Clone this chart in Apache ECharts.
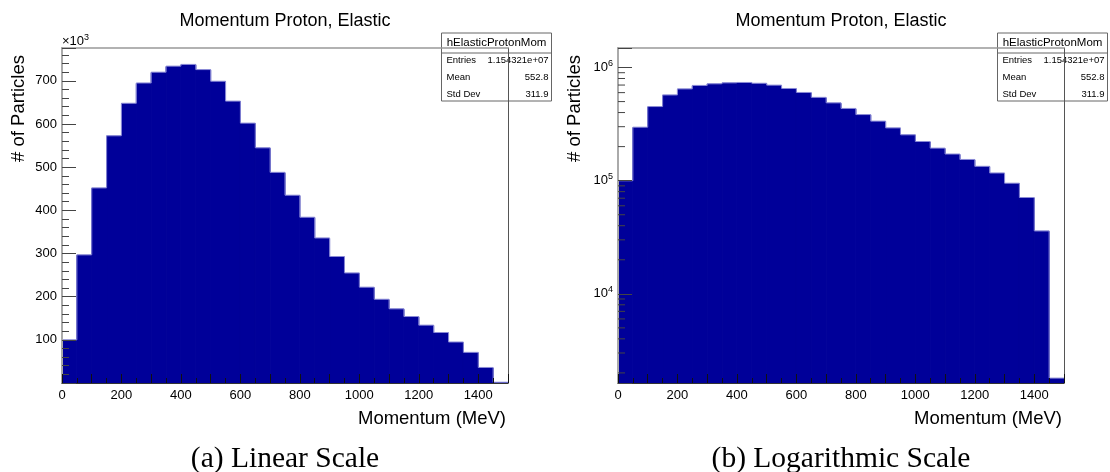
<!DOCTYPE html>
<html><head><meta charset="utf-8">
<script src="https://cdn.jsdelivr.net/npm/echarts@6/dist/echarts.min.js"></script>
<style>html,body{margin:0;padding:0;background:#fff}#c{width:1110px;height:472px}</style>
</head><body><div id="c"></div>
<script>
// ---- data ----
const binEdges = [0,50,100,150,200,250,300,350,400,450,500,550,600,650,700,750,800,850,900,950,1000,1050,1100,1150,1200,1250,1300,1350,1400,1450,1500];
// counts per bin, in thousands of particles
const particlesK = [100,297,452,573,648,695,720,734,738,726,699,653,602,545,488,435,384,336,293,255,222,194,172,154,134,117,95,71,36,1.8];
const xTickLabels = ['0','200','400','600','800','1000','1200','1400'];
const linTickLabels = ['100','200','300','400','500','600','700'];
const logTickExponents = [4,5,6];
const logMinorTicks = [2000,3000,4000,5000,6000,7000,8000,9000,20000,30000,40000,50000,60000,70000,80000,90000,200000,300000,400000,500000,600000,700000,800000,900000];
const histTitle = 'Momentum Proton, Elastic';
const xTitle = 'Momentum (MeV)';
const yTitle = '# of Particles';
const captions = ['(a) Linear Scale', '(b) Logarithmic Scale'];
const statsName = 'hElasticProtonMom';
const statsLabels = ['Entries', 'Mean', 'Std Dev'];
const statsValues = ['1.154321e+07', '552.8', '311.9'];

// ---- layout constants ----
const FONT = 'Liberation Sans';
const linMax = 776;
const logMin = 1629, logMax = 1.488e6;
const grids = [
  {left: 62, top: 48, width: 446, height: 335},
  {left: 618, top: 48, width: 446, height: 335}
];

function histData(scale, base) {
  return particlesK.map((v, i) => [binEdges[i], binEdges[i+1], v * scale, i === 0 ? base : particlesK[i-1] * scale]);
}
function histRender(base) {
  return function (params, api) {
    const x0 = api.value(0), x1 = api.value(1), v = api.value(2), pv = api.value(3);
    const tl = api.coord([x0, v]);
    const tr = api.coord([x1, v]);
    const br = api.coord([x1, base]);
    const pp = api.coord([x0, pv]);
    return {type: 'group', children: [
      {type: 'rect', z2: 0, shape: {x: tl[0], y: tl[1] + 0.5, width: br[0] - tl[0], height: br[1] - tl[1] - 0.5}, style: {fill: '#000099', stroke: '#000099', lineWidth: 1}},
      {type: 'polyline', z2: 10, shape: {points: [pp, tl, tr]}, style: {stroke: '#8a8ad6', lineWidth: 1, fill: null}}
    ]};
  };
}

const xLabelFmt = v => (xTickLabels.indexOf(String(v)) >= 0 ? String(v) : '');
function xAxes(gi) {
  return [
    {type: 'value', gridIndex: gi, min: 0, max: 1500, interval: 100, z: 5,
     axisLine: {onZero: false, lineStyle: {color: '#333', width: 1}},
     axisTick: {inside: true, length: 9, lineStyle: {color: '#111'}},
     minorTick: {show: true, splitNumber: 2, length: 5, lineStyle: {color: '#111'}},
     splitLine: {show: false},
     axisLabel: {formatter: xLabelFmt, color: '#000', fontFamily: FONT, fontSize: 13, margin: 6}},
    {type: 'value', gridIndex: gi, position: 'top', min: 0, max: 1500, z: 5,
     axisLine: {onZero: false, lineStyle: {color: '#999', width: 1.5}},
     axisTick: {show: false}, axisLabel: {show: false}, splitLine: {show: false}}
  ];
}
const rightAxis = gi => ({type: 'value', gridIndex: gi, position: 'right', min: 0, max: 1, z: 5,
  axisLine: {show: true, onZero: false, lineStyle: {color: '#555', width: 1}},
  axisTick: {show: false}, axisLabel: {show: false}, splitLine: {show: false}});

const supRich = {sup: {fontSize: 9, lineHeight: 9, verticalAlign: 'top', fontFamily: FONT, color: '#000'}};

const option = {
  animation: false,
  backgroundColor: '#fff',
  grid: grids.map(g => Object.assign({containLabel: false}, g)),
  xAxis: [...xAxes(0), ...xAxes(1)],
  yAxis: [
    {type: 'value', gridIndex: 0, min: 0, max: linMax, interval: 100, z: 5,
     axisLine: {show: true, onZero: false, lineStyle: {color: '#aaa', width: 2}},
     axisTick: {inside: true, length: 14, lineStyle: {color: '#444'}},
     minorTick: {show: true, splitNumber: 5, length: 7, lineStyle: {color: '#444'}},
     splitLine: {show: false},
     axisLabel: {formatter: v => (linTickLabels.indexOf(String(v)) >= 0 ? String(v) : ''), color: '#000', fontFamily: FONT, fontSize: 13, margin: 5}},
    rightAxis(0),
    {type: 'log', logBase: 10, gridIndex: 1, min: logMin, max: logMax, z: 5,
     axisLine: {show: true, onZero: false, lineStyle: {color: '#aaa', width: 2}},
     axisTick: {inside: true, length: 14, lineStyle: {color: '#444'}},
     minorTick: {show: false},
     splitLine: {show: false},
     axisLabel: {
       formatter: v => {
         const e = Math.log10(v), r = Math.round(e);
         if (Math.abs(e - r) > 1e-6 || logTickExponents.indexOf(r) < 0) return '';
         return '10{sup|' + r + '}';
       },
       color: '#000', fontFamily: FONT, fontSize: 13, lineHeight: 18, margin: 5, rich: supRich}},
    rightAxis(1)
  ],
  series: [
    {type: 'custom', xAxisIndex: 0, yAxisIndex: 0, z: 2, encode: {x: [0, 1], y: 2},
     data: histData(1, 0), renderItem: histRender(0)},
    {type: 'custom', xAxisIndex: 2, yAxisIndex: 2, z: 2, encode: {x: [0, 1], y: 2},
     data: histData(1000, logMin), renderItem: histRender(logMin)},
    {type: 'custom', xAxisIndex: 2, yAxisIndex: 2, z: 6, clip: false, encode: {x: 0, y: 1},
     data: logMinorTicks.map(v => [0, v]),
     renderItem: (params, api) => {
       const p = api.coord([0, api.value(1)]);
       return {type: 'line', shape: {x1: p[0], y1: p[1], x2: p[0] + 7, y2: p[1]}, style: {stroke: '#444', lineWidth: 1}};
     }}
  ],
  graphic: []
};

// text elements
const g = option.graphic;
grids.forEach((gr, i) => {
  const cx = gr.left + gr.width / 2;
  g.push({type: 'text', x: cx, y: 21, z: 50, style: {text: histTitle, font: '18px "' + FONT + '"', fill: '#000', align: 'center', verticalAlign: 'middle'}});
  g.push({type: 'text', x: gr.left + gr.width - 2, y: 419, z: 50, style: {text: xTitle, font: '18.5px "' + FONT + '"', fill: '#000', align: 'right', verticalAlign: 'middle'}});
  g.push({type: 'text', x: gr.left - 43, y: 55, rotation: Math.PI / 2, z: 50, style: {text: yTitle, font: '18.5px "' + FONT + '"', fill: '#000', align: 'right', verticalAlign: 'middle'}});
  g.push({type: 'text', x: cx, y: 459, z: 50, style: {text: captions[i], font: '29.5px "Liberation Serif"', fill: '#000', align: 'center', verticalAlign: 'middle'}});
  // stats box
  const bx = gr.left + gr.width - 66.5, by = 33, bw = 110, bh = 68;
  const kids = [
    {type: 'rect', shape: {x: bx, y: by, width: bw, height: bh}, style: {fill: '#fff', stroke: '#666', lineWidth: 1}},
    {type: 'line', shape: {x1: bx, y1: by + 20, x2: bx + bw, y2: by + 20}, style: {stroke: '#666', lineWidth: 1}},
    {type: 'text', x: bx + bw / 2, y: by + 10, style: {text: statsName, font: '11.5px "' + FONT + '"', fill: '#000', align: 'center', verticalAlign: 'middle'}}
  ];
  statsLabels.forEach((lab, k) => {
    const yy = by + 27 + k * 17.3;
    kids.push({type: 'text', x: bx + 5, y: yy, style: {text: lab, font: '9.5px "' + FONT + '"', fill: '#000', align: 'left', verticalAlign: 'middle'}});
    kids.push({type: 'text', x: bx + bw - 3, y: yy, style: {text: statsValues[k], font: '9.5px "' + FONT + '"', fill: '#000', align: 'right', verticalAlign: 'middle'}});
  });
  g.push({type: 'group', z: 60, children: kids});
});
// x10^3 multiplier on linear panel
g.push({type: 'text', x: grids[0].left, y: 41, z: 50, style: {text: '×10{sup|3}', font: '13px "' + FONT + '"', fill: '#000', align: 'left', verticalAlign: 'middle', lineHeight: 16, rich: supRich}});

const chart = echarts.init(document.getElementById('c'), null, {renderer: 'canvas'});
chart.setOption(option);
</script>
</body></html>
